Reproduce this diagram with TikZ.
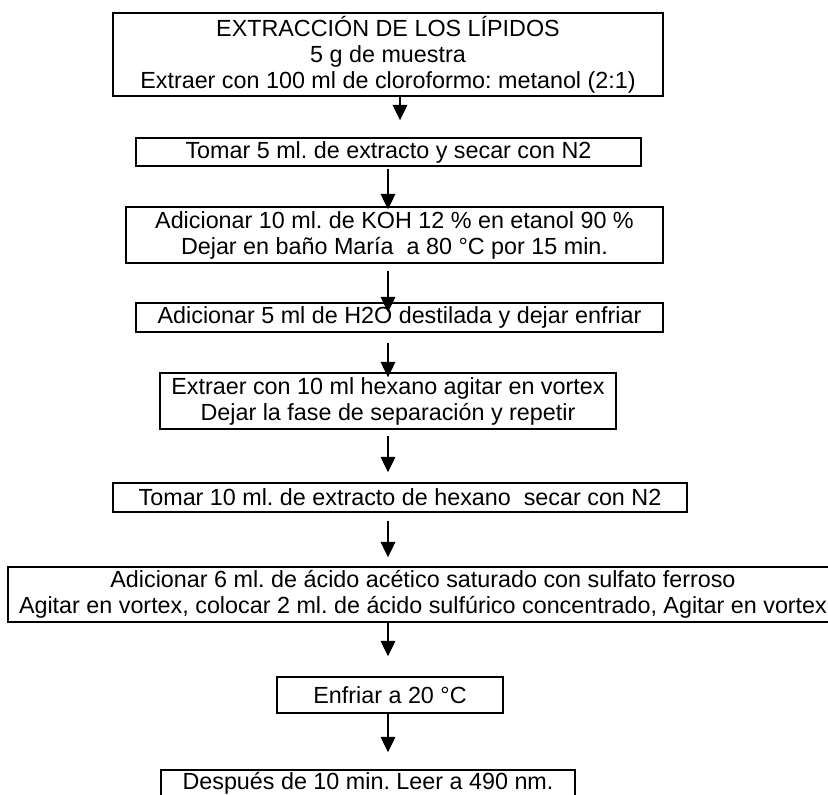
\documentclass[tikz,border=0pt]{standalone}
\usepackage{fontspec}
\setmainfont{Liberation Sans}
\usetikzlibrary{arrows.meta}
\frenchspacing

\begin{document}
\begin{tikzpicture}[x=0.75pt, y=-0.75pt,
        block/.style={rectangle, draw, line width=1.1pt, inner sep=0pt, align=center,
            font=\fontsize{17.5}{19.5}\selectfont},
        line/.style={draw, line width=0.8pt, -{Triangle[length=11.5pt, width=11pt]}},
        gap/.style 2 args={shorten <=#1*0.75pt, shorten >=#2*0.75pt}]

    \useasboundingbox (0,0) rectangle (828,794);

    % pasos del procedimiento
    \node [block, minimum width=412.5pt, minimum height=62.25pt] (extraccion) at (388,54.5)
        {EXTRACCIÓN DE LOS LÍPIDOS\\ 5 g de muestra\\ Extraer con 100 ml de cloroformo: metanol (2:1)};
    \node [block, minimum width=378.75pt, minimum height=21pt] (secado) at (388.5,152)
        {Tomar 5 ml. de extracto y secar con N2};
    \node [block, minimum width=402.75pt, minimum height=42pt] (koh) at (394.5,235)
        {Adicionar 10 ml. de KOH 12 \% en etanol 90 \%\\ Dejar en baño María\ \ a 80 °C por 15 min.};
    \node [block, minimum width=395.25pt, minimum height=21.75pt] (agua) at (399.5,317.5)
        {Adicionar 5 ml de H2O destilada y dejar enfriar};
    \node [block, minimum width=342pt, minimum height=42pt] (hexano) at (388,401)
        {Extraer con 10 ml hexano agitar en vortex\\ Dejar la fase de separación y repetir};
    \node [block, minimum width=430.5pt, minimum height=21.75pt] (extracto) at (400,497.5)
        {Tomar 10 ml. de extracto de hexano\ \ secar con N2};
    \node [block, minimum width=622.5pt, minimum height=41.25pt] (acido) at (423,594.5)
        {Adicionar 6 ml. de ácido acético saturado con sulfato ferroso\\
         Agitar en vortex, colocar 2 ml. de ácido sulfúrico concentrado, Agitar en vortex};
    \node [block, minimum width=169.5pt, minimum height=27pt] (enfriar) at (390,695)
        {Enfriar a 20 °C};
    \node [block, minimum width=310.5pt, minimum height=19.5pt] (lectura) at (368,783)
        {Después de 10 min. Leer a 490 nm.};

    % eje de las flechas
    \coordinate (ax) at (388,0);
    \coordinate (ax1) at (400,0);

    \path [line, gap={0}{17}] (extraccion.south -| ax1) -- (secado.north -| ax1);
    \path [line, gap={2}{-3}] (secado.south -| ax) -- (koh.north -| ax);
    \path [line, gap={7}{-10}] (koh.south -| ax) -- (agua.north -| ax);
    \path [line, gap={10}{-5}] (agua.south -| ax) -- (hexano.north -| ax);
    \path [line, gap={6}{10}] (hexano.south -| ax) -- (extracto.north -| ax);
    \path [line, gap={8}{9}] (extracto.south -| ax) -- (acido.north -| ax);
    \path [line, gap={0}{20}] (acido.south -| ax) -- (enfriar.north -| ax);
    \path [line, gap={0}{17}] (enfriar.south -| ax) -- (lectura.north -| ax);
\end{tikzpicture}
\end{document}
